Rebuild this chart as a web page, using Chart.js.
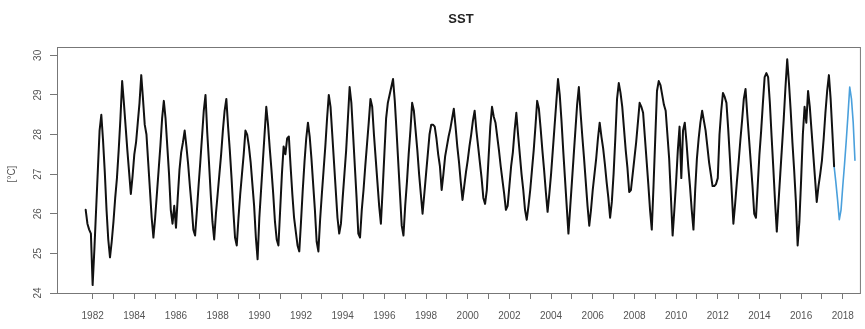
<!DOCTYPE html>
<html>
<head>
<meta charset="utf-8">
<script src="https://cdn.jsdelivr.net/npm/chart.js@4.4.0/dist/chart.umd.min.js"></script>
<style>
  html, body { margin: 0; padding: 0; background: #fff; }
  canvas { display: block; }
</style>
</head>
<body>
<canvas id="sstChart" width="865" height="329"></canvas>
<script>
// monthly mean SST [°C], observed from Sep 1981 to Aug 2017
const OBS_START = [1981, 9];
const observed = [
  26.1, 25.75, 25.6, 25.5,                                                      // 1981
  24.2, 25.1, 26.1, 27.1, 28.1, 28.5, 27.85, 27.05, 26.1, 25.35, 24.9, 25.3,    // 1982
  25.8, 26.4, 26.9, 27.6, 28.4, 29.35, 28.8, 28.2, 27.6, 27.05, 26.5, 26.95,    // 1983
  27.5, 27.8, 28.3, 28.8, 29.5, 28.9, 28.25, 28.0, 27.3, 26.6, 25.9, 25.4,      // 1984
  25.9, 26.5, 27.1, 27.7, 28.4, 28.85, 28.4, 27.7, 27.0, 26.1, 25.75, 26.2,     // 1985
  25.65, 26.4, 27.1, 27.55, 27.8, 28.1, 27.7, 27.25, 26.7, 26.2, 25.6, 25.45,   // 1986
  26.05, 26.7, 27.3, 27.95, 28.6, 29.0, 28.05, 27.3, 26.5, 25.8, 25.35, 26.0,   // 1987
  26.5, 27.0, 27.5, 28.1, 28.6, 28.9, 28.2, 27.6, 26.9, 26.1, 25.4, 25.2,       // 1988
  25.9, 26.5, 27.0, 27.5, 28.1, 28.0, 27.7, 27.3, 26.75, 26.2, 25.4, 24.85,     // 1989
  25.9, 26.6, 27.3, 28.0, 28.7, 28.25, 27.65, 27.1, 26.5, 25.8, 25.35, 25.2,    // 1990
  26.1, 27.0, 27.7, 27.5, 27.9, 27.95, 27.2, 26.5, 25.9, 25.55, 25.2, 25.05,    // 1991
  25.8, 26.6, 27.3, 27.9, 28.3, 27.95, 27.4, 26.75, 26.1, 25.3, 25.05, 25.85,   // 1992
  26.5, 27.1, 27.7, 28.4, 29.0, 28.7, 28.0, 27.3, 26.6, 25.9, 25.5, 25.75,      // 1993
  26.4, 27.0, 27.6, 28.4, 29.2, 28.8, 28.0, 27.2, 26.4, 25.5, 25.4, 26.1,       // 1994
  26.6, 27.2, 27.75, 28.3, 28.9, 28.7, 28.0, 27.4, 26.8, 26.2, 25.75, 26.6,     // 1995
  27.5, 28.4, 28.8, 29.0, 29.2, 29.4, 28.85, 28.1, 27.3, 26.5, 25.7, 25.45,     // 1996
  26.2, 26.8, 27.5, 28.1, 28.8, 28.6, 28.1, 27.6, 27.0, 26.5, 26.0, 26.5,       // 1997
  27.0, 27.5, 28.0, 28.25, 28.25, 28.2, 27.9, 27.5, 27.2, 26.6, 27.0, 27.45,    // 1998
  27.7, 27.95, 28.15, 28.4, 28.65, 28.2, 27.7, 27.3, 26.8, 26.35, 26.7, 27.05,  // 1999
  27.35, 27.7, 28.0, 28.35, 28.6, 28.1, 27.7, 27.3, 26.9, 26.4, 26.25, 26.6,    // 2000
  27.4, 28.2, 28.7, 28.45, 28.3, 27.95, 27.6, 27.2, 26.85, 26.5, 26.1, 26.2,    // 2001
  26.7, 27.2, 27.55, 28.1, 28.55, 28.0, 27.5, 27.0, 26.6, 26.1, 25.85, 26.2,    // 2002
  26.6, 27.1, 27.6, 28.2, 28.85, 28.65, 28.15, 27.6, 27.1, 26.55, 26.05, 26.5,  // 2003
  27.0, 27.6, 28.2, 28.8, 29.4, 29.0, 28.35, 27.6, 26.9, 26.2, 25.5, 26.15,     // 2004
  26.8, 27.45, 28.1, 28.75, 29.2, 28.55, 27.95, 27.4, 26.8, 26.2, 25.7, 26.1,   // 2005
  26.6, 27.0, 27.4, 27.9, 28.3, 27.95, 27.65, 27.25, 26.8, 26.4, 25.9, 26.3,    // 2006
  27.0, 27.9, 28.9, 29.3, 29.05, 28.7, 28.15, 27.6, 27.15, 26.55, 26.6, 27.0,   // 2007
  27.4, 27.8, 28.3, 28.8, 28.7, 28.55, 27.95, 27.35, 26.75, 26.1, 25.6, 26.7,   // 2008
  27.9, 29.1, 29.35, 29.25, 29.0, 28.75, 28.6, 28.0, 27.4, 26.45, 25.45, 26.1,  // 2009
  26.8, 27.6, 28.2, 26.9, 28.1, 28.3, 27.8, 27.2, 26.7, 26.1, 25.6, 26.6,       // 2010
  27.4, 27.9, 28.3, 28.6, 28.35, 28.1, 27.7, 27.3, 27.0, 26.7, 26.7, 26.75,     // 2011
  26.9, 28.0, 28.6, 29.05, 28.95, 28.8, 28.15, 27.4, 26.6, 25.75, 26.25, 26.8,  // 2012
  27.3, 27.85, 28.35, 28.9, 29.15, 28.5, 27.9, 27.3, 26.7, 26.0, 25.9, 26.7,    // 2013
  27.5, 28.1, 28.8, 29.45, 29.55, 29.45, 28.8, 27.95, 27.15, 26.3, 25.55, 26.3, // 2014
  27.0, 27.7, 28.4, 29.2, 29.9, 29.3, 28.6, 27.8, 27.1, 26.3, 25.2, 25.8,       // 2015
  26.85, 28.0, 28.7, 28.3, 29.1, 28.7, 28.1, 27.5, 26.9, 26.3, 26.7, 27.0,      // 2016
  27.35, 27.9, 28.55, 29.1, 29.5, 28.9, 28.05, 27.2                             // 2017
];

// forecast, Aug 2017 to Aug 2018
const FC_START = [2017, 8];
const forecast = [27.2, 26.8, 26.35, 25.85, 26.1, 26.7, 27.25, 27.85, 28.5, 29.2, 28.9, 28.3, 27.35];

const yTicks = [24, 25, 26, 27, 28, 29, 30];
const xTicks = [];
for (let yr = 1982; yr <= 2018; yr++) xTicks.push(yr);

// month index -> decimal year
function toPoints(start, values) {
  return values.map((v, i) => ({ x: start[0] + (start[1] - 1 + i) / 12, y: v }));
}

const FONT = "'Liberation Sans', Arial, sans-serif";

// box, title, rotated y labels
const decorations = {
  id: 'decorations',
  afterDraw(chart) {
    const { ctx, chartArea: a, scales } = chart;
    ctx.save();
    ctx.strokeStyle = '#777';
    ctx.lineWidth = 1;
    ctx.strokeRect(a.left + 0.5, a.top + 0.5, a.right - a.left - 1, a.bottom - a.top);

    ctx.fillStyle = '#222';
    ctx.font = 'bold 13px ' + FONT;
    ctx.textAlign = 'center';
    ctx.textBaseline = 'middle';
    ctx.fillText('SST', (a.left + a.right) / 2 + 2, 19);

    ctx.fillStyle = '#555';
    ctx.font = '10px ' + FONT;
    yTicks.forEach(v => {
      const py = scales.y.getPixelForValue(v);
      ctx.save();
      ctx.translate(38, py);
      ctx.rotate(-Math.PI / 2);
      ctx.fillText(String(v), 0, 0);
      ctx.restore();
    });

    ctx.save();
    ctx.translate(12, (a.top + a.bottom) / 2 + 4);
    ctx.rotate(-Math.PI / 2);
    ctx.fillText('[°C]', 0, 0);
    ctx.restore();
    ctx.restore();
  }
};

new Chart(document.getElementById('sstChart'), {
  type: 'line',
  data: {
    datasets: [
      {
        label: 'observed',
        data: toPoints(OBS_START, observed),
        borderColor: '#111',
        borderWidth: 2,
        pointRadius: 0,
        tension: 0,
        borderJoinStyle: 'round',
        borderCapStyle: 'round'
      },
      {
        label: 'forecast',
        data: toPoints(FC_START, forecast),
        borderColor: '#4aa0dc',
        borderWidth: 1.6,
        pointRadius: 0,
        tension: 0,
        borderJoinStyle: 'round',
        borderCapStyle: 'round'
      }
    ]
  },
  options: {
    responsive: false,
    animation: false,
    devicePixelRatio: 1,
    layout: { padding: { left: 0, right: 4, top: 47, bottom: 0 } },
    plugins: {
      legend: { display: false },
      tooltip: { enabled: false },
      title: { display: false }
    },
    scales: {
      x: {
        type: 'linear',
        min: 1980.29,
        max: 2018.87,
        afterBuildTicks: s => { s.ticks = xTicks.map(v => ({ value: v })); },
        afterFit: s => { s.height = 36; },
        border: { display: false },
        grid: { drawOnChartArea: false, drawTicks: true, tickLength: 6, color: '#777' },
        ticks: {
          autoSkip: false,
          maxRotation: 0,
          minRotation: 0,
          padding: 11,
          color: '#555',
          font: { family: FONT, size: 10 },
          callback: v => (v % 2 === 0 ? String(v) : '')
        }
      },
      y: {
        type: 'linear',
        min: 24,
        max: 30.21,
        afterBuildTicks: s => { s.ticks = yTicks.map(v => ({ value: v })); },
        afterFit: s => { s.width = 57; },
        border: { display: false },
        grid: { drawOnChartArea: false, drawTicks: true, tickLength: 7, color: '#777' },
        ticks: { display: false }
      }
    }
  },
  plugins: [decorations]
});
</script>
</body>
</html>
